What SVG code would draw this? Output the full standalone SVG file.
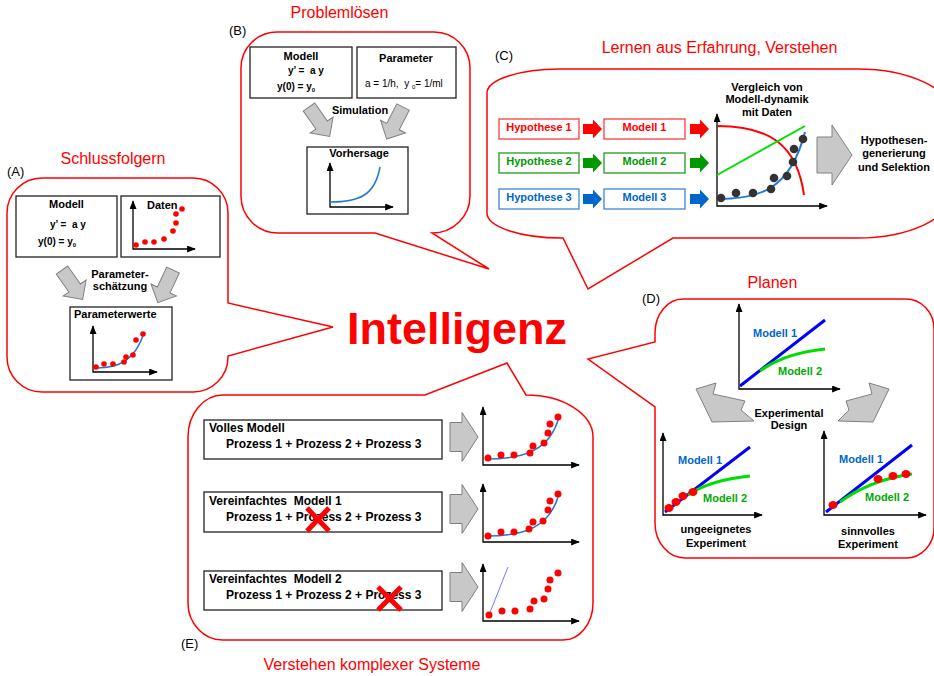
<svg xmlns="http://www.w3.org/2000/svg" xmlns:xlink="http://www.w3.org/1999/xlink" width="934" height="676" viewBox="0 0 934 676">
<style>
text{font-family:"Liberation Sans",Arial,sans-serif;fill:#000}
.b{font-weight:bold}
.s11{font-size:11px}
.s10{font-size:10px}
.s12{font-size:12px}
.mid{text-anchor:middle}
.title{font-size:16px;fill:#ff0000;text-anchor:middle}
.lab{font-size:13px}
.bubble{fill:none;stroke:#ff0000;stroke-width:1.5;stroke-linejoin:miter}
.box{fill:#fff;stroke:#222;stroke-width:1.3}
.axis{fill:none;stroke:#000;stroke-width:1.3;marker-start:url(#ah);marker-end:url(#ah)}
.gar{fill:#c8c8c8;stroke:#808080;stroke-width:1}
.dot{fill:#ff0000}
.gdot{fill:#333}
.cblue{fill:none;stroke:#1f7ad0;stroke-width:1.5}
.red{fill:#ff0000}
.green{fill:#009900}
.blue{fill:#0066cc}
.lgreen{fill:#00aa00}
</style>
<defs>
<marker id="ah" viewBox="0 0 10 8" refX="9" refY="4" markerWidth="9" markerHeight="7" markerUnits="userSpaceOnUse" orient="auto-start-reverse">
<path d="M0,0 L10,4 L0,8 Z" fill="#000"/>
</marker>
<path id="garr" d="M0,-7 H22 V-14 L36,0 L22,14 V7 H0 Z"/>
<path id="earr" d="M0,-14.5 H12 V-24.5 L28,0 L12,24.5 V14.5 H0 Z"/>
<path id="carr" d="M0,-5 H10 V-9.5 L19,0 L10,9.5 V5 H0 Z"/>
</defs>

<g id="connectors">
<path class="bubble" d="M42,178 H193 A35,35 0 0 1 228,213 V303 L333,327 L228,356 V357 A35,35 0 0 1 193,392 H42 A35,35 0 0 1 7,357 V213 A35,35 0 0 1 42,178 Z"/>
<path class="bubble" d="M277,32 H434 A36,36 0 0 1 470,68 V196 A38,37 0 0 1 432,233 L489,269 L375,233 H278 A37,37 0 0 1 241,196 V68 A36,36 0 0 1 277,32 Z"/>
<path class="bubble" d="M560,69 H857 A95,45 0 0 1 952,114 V193 A95,45 0 0 1 857,238 H673 L588,289 L563,238 H562 A75,25 0 0 1 487,213 V93 A73,24 0 0 1 560,69 Z"/>
<path class="bubble" d="M683,299 H906 A28,30 0 0 1 934,329 V528 A28,30 0 0 1 906,558 H685 A30,35 0 0 1 655,523 V407 L588,359 L655,342 V333 A28,34 0 0 1 683,299 Z"/>
<path class="bubble" d="M223,395 H425 L507,363 L526,395 A67,42 0 0 1 593,437 V603 A30,37 0 0 1 563,640 H223 A35,37 0 0 1 188,603 V437 A35,42 0 0 1 223,395 Z"/>
</g>

<g id="center">
<text x="457" y="344" class="b mid" style="font-size:45px;fill:#ff0000">Intelligenz</text>
</g>

<g id="panelA">
<text x="113" y="164" class="title">Schlussfolgern</text>
<text x="7" y="176" class="lab">(A)</text>
<rect class="box" x="16" y="196" width="101" height="61"/>
<text x="66.5" y="208" class="b s11 mid">Modell</text>
<text x="50" y="228" class="b s10" xml:space="preserve">y’ =  a y</text>
<text x="38" y="245" class="b s10">y(0) = y<tspan font-size="6" dy="2">0</tspan></text>
<rect class="box" x="121" y="196" width="99" height="61"/>
<text x="147" y="209" class="b s11">Daten</text>
<path class="axis" d="M133,201 V249 H195"/>
<circle class="dot" cx="136" cy="245" r="2.8"/><circle class="dot" cx="145" cy="242" r="2.8"/><circle class="dot" cx="154" cy="242" r="2.8"/><circle class="dot" cx="164" cy="239" r="2.8"/><circle class="dot" cx="173" cy="231" r="2.8"/><circle class="dot" cx="176" cy="223" r="2.8"/><circle class="dot" cx="176" cy="214" r="2.8"/><circle class="dot" cx="182" cy="209" r="2.8"/>
<use href="#garr" class="gar" transform="translate(62,270) rotate(55)"/>
<use href="#garr" class="gar" transform="translate(173,270) rotate(115)"/>
<text x="120" y="278" class="b s11 mid">Parameter-</text>
<text x="120" y="290" class="b s11 mid">schätzung</text>
<rect class="box" x="70" y="307" width="102" height="73"/>
<text x="74" y="318" class="b s11">Parameterwerte</text>
<path class="axis" d="M93,326 V372 H157"/>
<path class="cblue" d="M96,368 C120,368 135,360 144,333"/>
<circle class="dot" cx="96" cy="367" r="2.8"/><circle class="dot" cx="104" cy="364" r="2.8"/><circle class="dot" cx="113" cy="364" r="2.8"/><circle class="dot" cx="124" cy="362" r="2.8"/><circle class="dot" cx="126" cy="357" r="2.8"/><circle class="dot" cx="133" cy="355" r="2.8"/><circle class="dot" cx="136" cy="340" r="2.8"/><circle class="dot" cx="143" cy="334" r="2.8"/>
</g>

<g id="panelB">
<text x="339.5" y="18" class="title">Problemlösen</text>
<text x="229" y="35" class="lab">(B)</text>
<rect class="box" x="250" y="47" width="102" height="51"/>
<text x="301" y="60" class="b s11 mid">Modell</text>
<text x="288" y="74" class="b s10" xml:space="preserve">y’ =  a y</text>
<text x="277" y="90" class="b s10">y(0) = y<tspan font-size="6" dy="2">0</tspan></text>
<rect class="box" x="357" y="47" width="99" height="51"/>
<text x="406" y="62" class="b s11 mid">Parameter</text>
<text x="365" y="87" class="s10" xml:space="preserve">a = 1/h,  y <tspan font-size="6" dy="2">0</tspan><tspan dy="-2">= 1/ml</tspan></text>
<use href="#garr" class="gar" transform="translate(309,107) rotate(55)"/>
<use href="#garr" class="gar" transform="translate(403,107) rotate(117)"/>
<text x="360" y="114" class="b s11 mid">Simulation</text>
<rect class="box" x="307" y="147" width="101" height="67"/>
<text x="359" y="157" class="b s11 mid">Vorhersage</text>
<path class="axis" d="M330,163 V207 H393"/>
<path class="cblue" d="M330,202 C360,202 375,195 380,167"/>
</g>

<g id="panelC">
<text x="719.5" y="53" class="title">Lernen aus Erfahrung, Verstehen</text>
<text x="495" y="60" class="lab">(C)</text>
<rect x="499" y="119" width="80" height="20" fill="#fff" stroke="#ff3b3b" stroke-width="1.3"/>
<text x="539" y="131" class="b s11 mid red">Hypothese 1</text>
<rect x="499" y="153" width="80" height="20" fill="#fff" stroke="#1f9a1f" stroke-width="1.3"/>
<text x="539" y="165" class="b s11 mid green">Hypothese 2</text>
<rect x="499" y="189" width="80" height="20" fill="#fff" stroke="#3a87d8" stroke-width="1.3"/>
<text x="539" y="201" class="b s11 mid blue">Hypothese 3</text>
<rect x="604" y="119" width="81" height="20" fill="#fff" stroke="#ff3b3b" stroke-width="1.3"/>
<text x="644.5" y="131" class="b s11 mid red">Modell 1</text>
<rect x="604" y="153" width="81" height="20" fill="#fff" stroke="#1f9a1f" stroke-width="1.3"/>
<text x="644.5" y="165" class="b s11 mid green">Modell 2</text>
<rect x="604" y="189" width="81" height="20" fill="#fff" stroke="#3a87d8" stroke-width="1.3"/>
<text x="644.5" y="201" class="b s11 mid blue">Modell 3</text>
<use href="#carr" fill="#ff0000" transform="translate(583,129)"/>
<use href="#carr" fill="#009900" transform="translate(583,163)"/>
<use href="#carr" fill="#0066cc" transform="translate(583,199)"/>
<use href="#carr" fill="#ff0000" transform="translate(690,129)"/>
<use href="#carr" fill="#009900" transform="translate(690,163)"/>
<use href="#carr" fill="#0066cc" transform="translate(690,199)"/>
<text x="767" y="91" class="b s11 mid">Vergleich von</text>
<text x="767" y="103" class="b s11 mid">Modell-dynamik</text>
<text x="767" y="116" class="b s11 mid">mit Daten</text>
<path class="axis" d="M717,114 V206 H827"/>
<path d="M717,126 C770,126 797,145 804,195" fill="none" stroke="#ff0000" stroke-width="2"/>
<path d="M717,175 L805,126" fill="none" stroke="#00e000" stroke-width="2"/>
<path d="M717,199 C760,199 790,190 805,132" fill="none" stroke="#1f7ad0" stroke-width="2"/>
<circle class="gdot" cx="721" cy="198" r="4.3"/><circle class="gdot" cx="736" cy="193" r="4.3"/><circle class="gdot" cx="753" cy="193" r="4.3"/><circle class="gdot" cx="771" cy="189" r="4.3"/><circle class="gdot" cx="774" cy="178" r="4.3"/><circle class="gdot" cx="787" cy="176" r="4.3"/><circle class="gdot" cx="793" cy="162" r="4.3"/><circle class="gdot" cx="794" cy="149" r="4.3"/><circle class="gdot" cx="803" cy="139" r="4.3"/>
<path class="gar" d="M817,137 H832 V125 L852,155 L832,185 V173 H817 Z"/>
<text x="894" y="144" class="b s11 mid">Hypothesen-</text>
<text x="894" y="157" class="b s11 mid">generierung</text>
<text x="894" y="171" class="b s11 mid">und Selektion</text>
</g>

<g id="panelD">
<text x="772.5" y="288" class="title">Planen</text>
<text x="642" y="303" class="lab">(D)</text>
<path class="axis" d="M739,304 V389 H840"/>
<line x1="740" y1="386" x2="825" y2="320" stroke="#0000ff" stroke-width="3"/>
<path d="M760,371 Q785,353 825,349" fill="none" stroke="#00dd00" stroke-width="3"/>
<text x="753" y="337" class="b s11 blue">Modell 1</text>
<text x="778" y="375" class="b s11 lgreen">Modell 2</text>
<path class="gar" d="M696,389 L716,383 L713,394 L745,401 L741,410 L754,421 L712,422 Z"/>
<path class="gar" d="M889,389 L869,383 L872,394 L846,401 L849,410 L838,421 L873,422 Z"/>
<text x="789" y="417" class="b s11 mid">Experimental</text>
<text x="789" y="429" class="b s11 mid">Design</text>
<path class="axis" d="M663,433 V515 H762"/>
<line x1="665" y1="512" x2="750" y2="447" stroke="#0000ff" stroke-width="3"/>
<path d="M688,495 Q710,480 750,476" fill="none" stroke="#00dd00" stroke-width="3"/>
<ellipse class="dot" cx="669" cy="508" rx="4.5" ry="4"/><ellipse class="dot" cx="676" cy="502" rx="4.5" ry="4"/><ellipse class="dot" cx="683" cy="496" rx="4.5" ry="4"/><ellipse class="dot" cx="693" cy="492" rx="4.5" ry="4"/>
<text x="678" y="464" class="b s11 blue">Modell 1</text>
<text x="703" y="502" class="b s11 lgreen">Modell 2</text>
<text x="716" y="533" class="b s11 mid">ungeeignetes</text>
<text x="716" y="547" class="b s11 mid">Experiment</text>
<path class="axis" d="M824,431 V515 H926"/>
<line x1="826" y1="512" x2="912" y2="445" stroke="#0000ff" stroke-width="3"/>
<path d="M840,502 Q870,480 912,474" fill="none" stroke="#00dd00" stroke-width="3"/>
<ellipse class="dot" cx="833" cy="505" rx="4.5" ry="4"/><ellipse class="dot" cx="878" cy="479" rx="4.5" ry="4"/><ellipse class="dot" cx="893" cy="476" rx="4.5" ry="4"/><ellipse class="dot" cx="906" cy="474" rx="4.5" ry="4"/>
<text x="839" y="463" class="b s11 blue">Modell 1</text>
<text x="865" y="501" class="b s11 lgreen">Modell 2</text>
<text x="868" y="535" class="b s11 mid">sinnvolles</text>
<text x="868" y="548" class="b s11 mid">Experiment</text>
</g>

<g id="panelE">
<text x="372" y="670" class="title">Verstehen komplexer Systeme</text>
<text x="181" y="648" class="lab">(E)</text>
<rect class="box" x="204" y="420" width="238" height="39"/>
<text x="209" y="432" class="b s12">Volles Modell</text>
<text x="226" y="448" class="b s12">Prozess 1 + Prozess 2 + Prozess 3</text>
<rect class="box" x="204" y="492" width="238" height="40"/>
<text x="209" y="505" class="b s12" xml:space="preserve">Vereinfachtes  Modell 1</text>
<text x="226" y="521" class="b s12">Prozess 1 + Prozess 2 + Prozess 3</text>
<rect class="box" x="204" y="571" width="238" height="39"/>
<text x="209" y="583" class="b s12" xml:space="preserve">Vereinfachtes  Modell 2</text>
<text x="226" y="599" class="b s12">Prozess 1 + Prozess 2 + Prozess 3</text>
<path d="M307,508 L329,531 M329,508 L307,531" stroke="#ff0000" stroke-width="5"/>
<path d="M378,587 L401,610 M401,587 L378,610" stroke="#ff0000" stroke-width="5"/>
<use href="#earr" class="gar" transform="translate(450,437)"/>
<use href="#earr" class="gar" transform="translate(450,509)"/>
<use href="#earr" class="gar" transform="translate(450,587)"/>
<path class="axis" d="M483,407 V465 H579"/>
<path class="cblue" d="M487,459 C525,459 550,450 559,417"/>
<circle class="dot" cx="488" cy="458" r="3.5"/><circle class="dot" cx="501" cy="455" r="3.5"/><circle class="dot" cx="514" cy="455" r="3.5"/><circle class="dot" cx="530" cy="453" r="3.5"/><circle class="dot" cx="533" cy="446" r="3.5"/><circle class="dot" cx="544" cy="443" r="3.5"/><circle class="dot" cx="548" cy="433" r="3.5"/><circle class="dot" cx="550" cy="424" r="3.5"/><circle class="dot" cx="558" cy="417" r="3.5"/>
<path class="axis" d="M483,484 V542 H579"/>
<path class="cblue" d="M487,536 C525,536 550,527 559,494"/>
<circle class="dot" cx="488" cy="536" r="3.5"/><circle class="dot" cx="501" cy="532" r="3.5"/><circle class="dot" cx="514" cy="532" r="3.5"/><circle class="dot" cx="529" cy="529" r="3.5"/><circle class="dot" cx="533" cy="522" r="3.5"/><circle class="dot" cx="543" cy="521" r="3.5"/><circle class="dot" cx="548" cy="510" r="3.5"/><circle class="dot" cx="550" cy="501" r="3.5"/><circle class="dot" cx="558" cy="494" r="3.5"/>
<path class="axis" d="M483,564 V621 H579"/>
<line x1="489" y1="615" x2="508" y2="567" stroke="#6a6aff" stroke-width="0.9"/>
<circle class="dot" cx="489" cy="615" r="3.5"/><circle class="dot" cx="502" cy="611" r="3.5"/><circle class="dot" cx="515" cy="611" r="3.5"/><circle class="dot" cx="530" cy="609" r="3.5"/><circle class="dot" cx="534" cy="601" r="3.5"/><circle class="dot" cx="544" cy="599" r="3.5"/><circle class="dot" cx="548" cy="589" r="3.5"/><circle class="dot" cx="550" cy="580" r="3.5"/><circle class="dot" cx="558" cy="573" r="3.5"/>
</g>
</svg>
